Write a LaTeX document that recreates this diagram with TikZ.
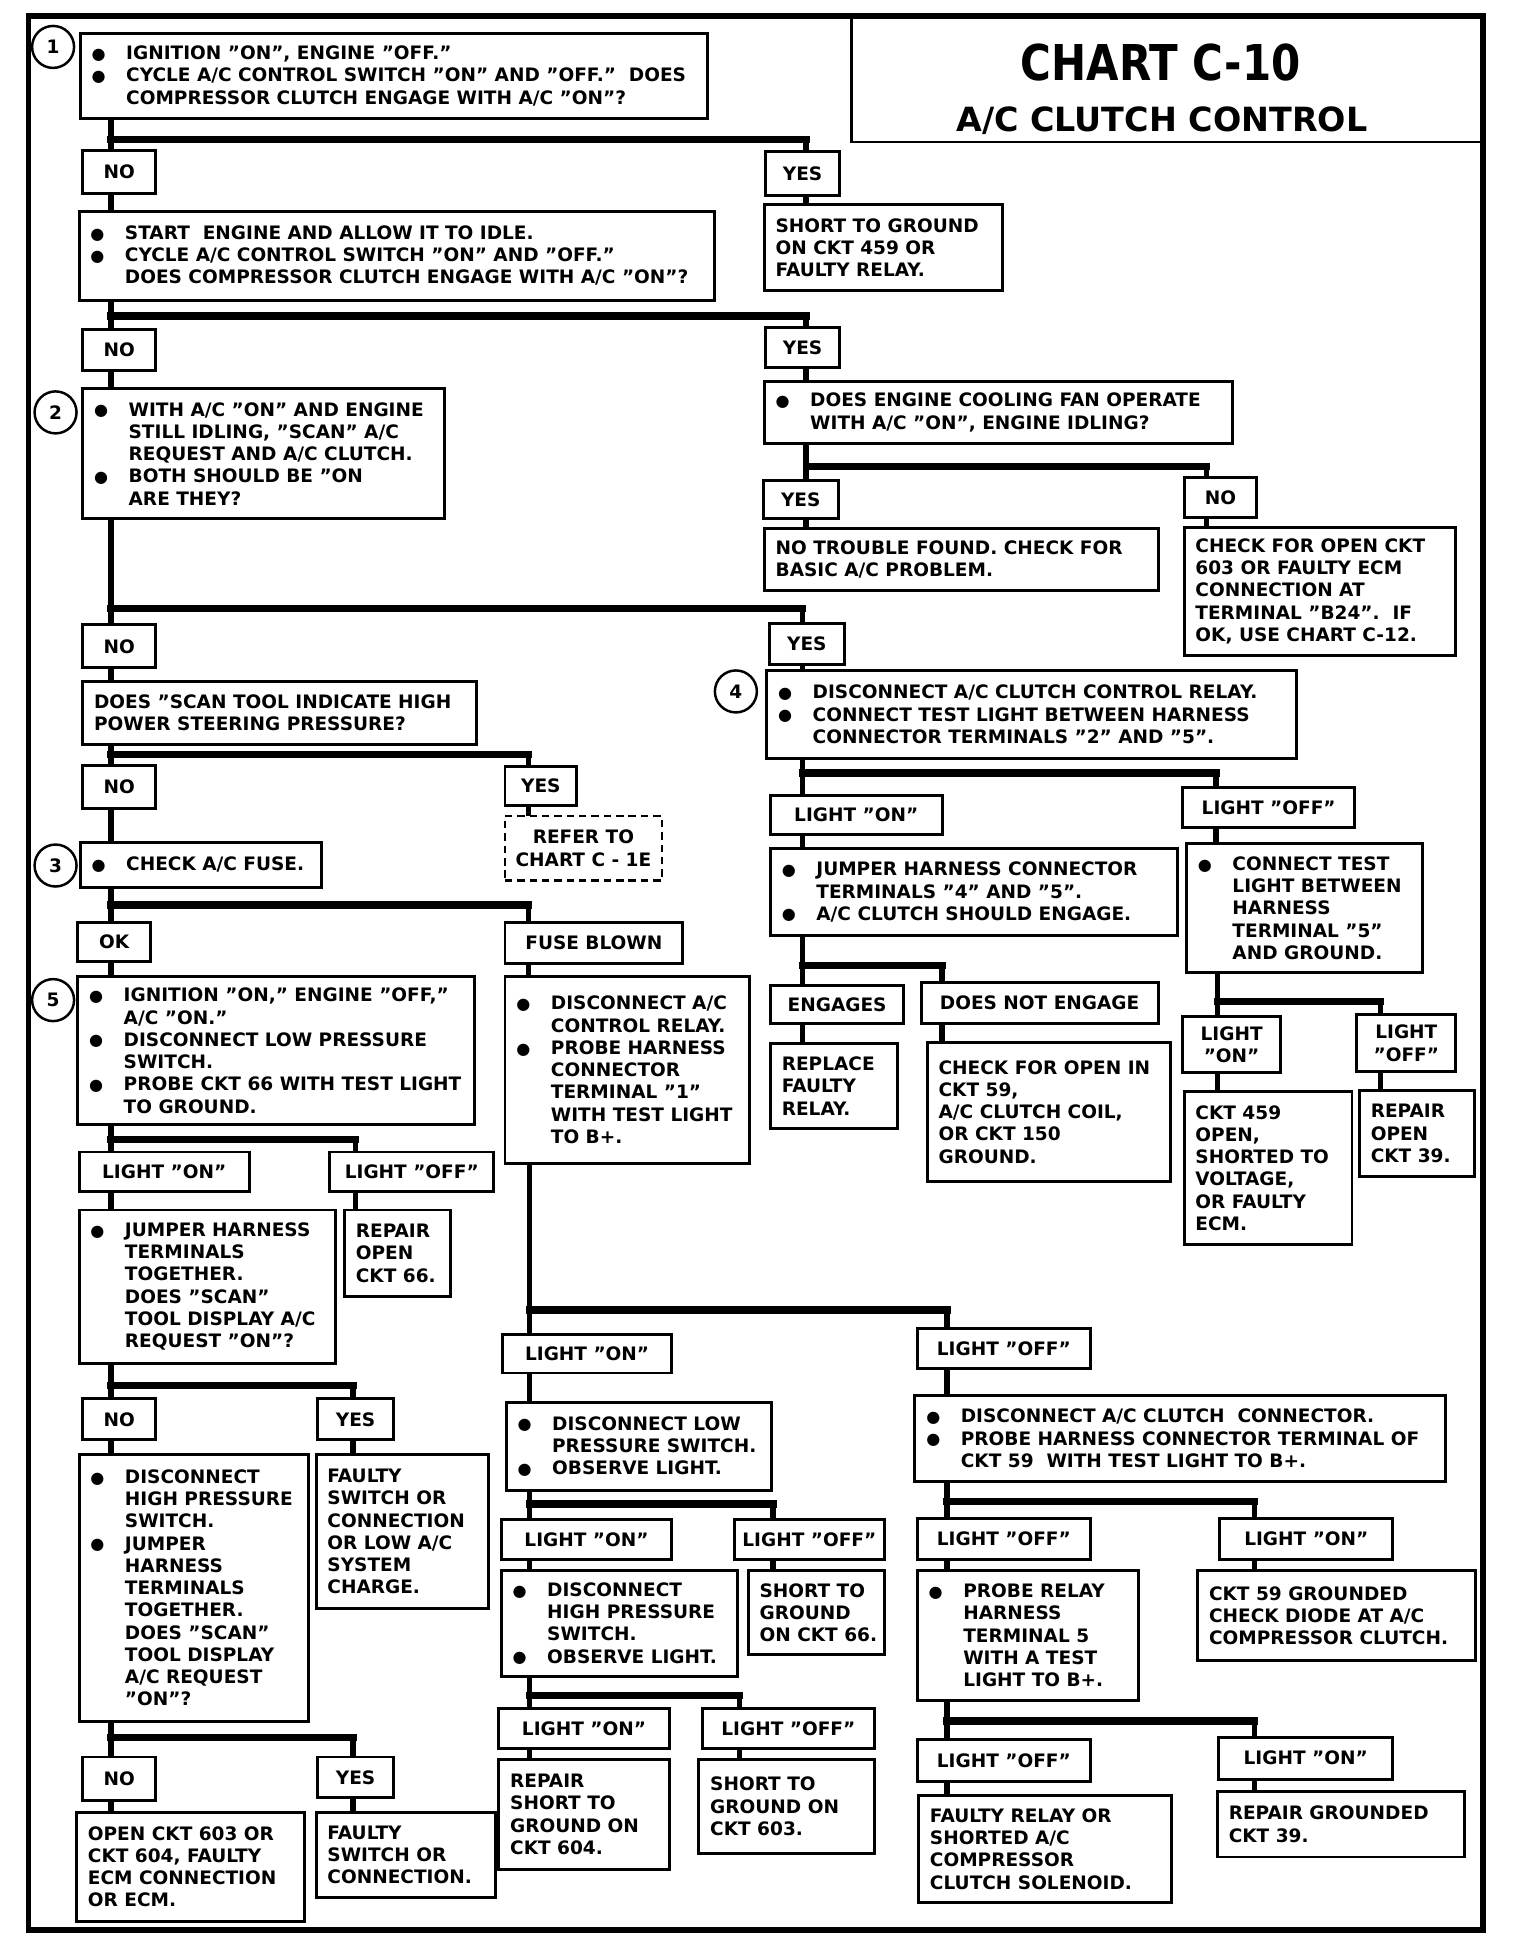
\documentclass[tikz,border=0pt]{standalone}
\usepackage{fontspec}
\usepackage{graphicx}
\setmainfont{DejaVu Sans}
\newcommand\bulx{\makebox[28pt][l]{\fontsize{13}{13}\selectfont\raisebox{0.3pt}{●}}}
\newcommand\indx{\hbox to 28pt{}}
\newcommand\bx[6]{\pgfmathsetmacro\BXw{#4-#2}\pgfmathsetmacro\BXh{#5-#3}%
  \node[box, minimum width=\BXw pt, minimum height=\BXh pt] (#1) at (#2,#3) {};
  \node[txt] (#1-t) at ([xshift=9pt]#1.west) {#6};}
\newcommand\lb[6]{\pgfmathsetmacro\BXw{#4-#2}\pgfmathsetmacro\BXh{#5-#3}%
  \node[lab, minimum width=\BXw pt, minimum height=\BXh pt] (#1) at (#2,#3) {#6};}
\newcommand\vc[3]{\draw[vl] (#1.south -| #3,0) -- (#2.north -| #3,0);}
\newcommand\br[4]{\draw[hl] (#2,#3) -- (#4,#3); \draw[vl] (#4,#3) -- (#1.north -| #4,0);}
\begin{document}
\begin{tikzpicture}[x=1pt,y=-1pt,
  every node/.style={font=\fontsize{15}{18}\selectfont\bfseries},
  box/.style={draw, rectangle, line width=2.4pt, inner sep=0pt, outer sep=0pt, anchor=north west},
  txt/.style={align=left, inner sep=0pt, anchor=west},
  lab/.style={draw, rectangle, line width=2.4pt, inner sep=0pt, outer sep=0pt, align=center, anchor=north west},
  num/.style={circle, draw, line width=2pt, minimum size=34pt, inner sep=0pt, fill=white},
  vl/.style={line width=4.5pt},
  hl/.style={line width=6pt, line cap=rect}]
\useasboundingbox (0,0) rectangle (1231,1568);
\fill[white] (0,0) rectangle (1231,1568);
% title
\node[box, minimum width=511pt, minimum height=102pt] (title) at (690,13) {};
\node (t1) at (940,51) {\scalebox{0.85}[1]{\fontsize{40}{44}\selectfont\bfseries CHART C-10}};
\node (t2) at (941,98) {\fontsize{27}{30}\selectfont\bfseries A/C CLUTCH CONTROL};
\draw[line width=4.5pt] (23,13) rectangle (1201,1563);
% step numbers
\node[num] (c1) at (43,38) {1};
\node[num] (c2) at (45,334) {2};
\node[num] (c3) at (45,701) {3};
\node[num] (c4) at (596,560) {4};
\node[num] (c5) at (43,810) {5};
% boxes
\bx{b1}{65}{27}{573}{96}{\bulx IGNITION "ON", ENGINE "OFF."\\\bulx CYCLE A/C CONTROL SWITCH "ON" AND "OFF."~~DOES\\\indx COMPRESSOR CLUTCH ENGAGE WITH A/C "ON"?}
\lb{no1}{67}{122}{126}{157}{NO}
\lb{yes1}{620}{123}{680}{158}{YES}
\bx{b2}{64}{171}{579}{243}{\bulx START~~ENGINE AND ALLOW IT TO IDLE.\\\bulx CYCLE A/C CONTROL SWITCH "ON" AND "OFF."\\\indx DOES COMPRESSOR CLUTCH ENGAGE WITH A/C "ON"?}
\bx{sg1}{619}{166}{812}{235}{SHORT TO GROUND\\ON CKT 459 OR\\FAULTY RELAY.}
\lb{no2}{67}{267}{126}{300}{NO}
\lb{yes2}{620}{265}{680}{298}{YES}
\bx{b3}{619}{309}{998}{359}{\bulx DOES ENGINE COOLING FAN OPERATE\\\indx WITH A/C "ON", ENGINE IDLING?}
\bx{s2}{67}{315}{360}{420}{\bulx WITH A/C "ON" AND ENGINE\\\indx STILL IDLING, "SCAN" A/C\\\indx REQUEST AND A/C CLUTCH.\\\bulx BOTH SHOULD BE "ON\\\indx ARE THEY?}
\lb{yes3}{618}{389}{679}{420}{YES}
\lb{no3}{959}{387}{1018}{419}{NO}
\bx{ntf}{619}{428}{938}{478}{NO TROUBLE FOUND. CHECK FOR\\BASIC A/C PROBLEM.}
\bx{cko}{959}{427}{1179}{531}{CHECK FOR OPEN CKT\\603 OR FAULTY ECM\\CONNECTION AT\\TERMINAL "B24".~~IF\\OK, USE CHART C-12.}
\lb{no4}{67}{506}{126}{541}{NO}
\lb{yes4}{623}{505}{684}{538}{YES}
\bx{s4}{621}{543}{1050}{614}{\bulx DISCONNECT A/C CLUTCH CONTROL RELAY.\\\bulx CONNECT TEST LIGHT BETWEEN HARNESS\\\indx CONNECTOR TERMINALS "2" AND "5".}
\bx{scanq}{67}{552}{386}{603}{DOES "SCAN TOOL INDICATE HIGH\\POWER STEERING PRESSURE?}
\lb{no5}{67}{620}{126}{655}{NO}
\lb{yes5}{409}{621}{467}{652}{YES}
\node[lab, dashed, dash pattern=on 6pt off 4pt, line width=2pt, minimum width=127pt, minimum height=52pt] (refer) at (409,661) {REFER TO\\CHART C - 1E};
\bx{s3}{65}{682}{260}{719}{\bulx CHECK A/C FUSE.}
\lb{lon1}{624}{644}{763}{676}{LIGHT "ON"}
\lb{loff1}{958}{638}{1097}{670}{LIGHT "OFF"}
\bx{jhc}{624}{687}{954}{758}{\bulx JUMPER HARNESS CONNECTOR\\\indx TERMINALS "4" AND "5".\\\bulx A/C CLUTCH SHOULD ENGAGE.}
\bx{ctl}{961}{683}{1152}{788}{\bulx CONNECT TEST\\\indx LIGHT BETWEEN\\\indx HARNESS\\\indx TERMINAL "5"\\\indx AND GROUND.}
\lb{ok}{63}{747}{122}{779}{OK}
\lb{fb}{409}{747}{553}{780}{FUSE BLOWN}
\lb{eng}{624}{798}{732}{829}{ENGAGES}
\lb{dne}{746}{796}{938}{829}{DOES NOT ENGAGE}
\bx{rfr}{624}{845}{727}{914}{REPLACE\\FAULTY\\RELAY.}
\bx{cfo}{751}{844}{948}{957}{CHECK FOR OPEN IN\\CKT 59,\\A/C CLUTCH COIL,\\OR CKT 150\\GROUND.}
\lb{lon2}{958}{823}{1037}{869}{LIGHT\\"ON"}
\lb{loff2}{1099}{822}{1179}{868}{LIGHT\\"OFF"}
\bx{c459}{959}{884}{1095}{1008}{CKT 459\\OPEN,\\SHORTED TO\\VOLTAGE,\\OR FAULTY\\ECM.}
\bx{roc39}{1101}{883}{1194}{953}{REPAIR\\OPEN\\CKT 39.}
\bx{s5}{63}{791}{384}{911}{\bulx IGNITION "ON," ENGINE "OFF,"\\\indx A/C "ON."\\\bulx DISCONNECT LOW PRESSURE\\\indx SWITCH.\\\bulx PROBE CKT 66 WITH TEST LIGHT\\\indx TO GROUND.}
\bx{fbc}{409}{791}{607}{942}{\bulx DISCONNECT A/C\\\indx CONTROL RELAY.\\\bulx PROBE HARNESS\\\indx CONNECTOR\\\indx TERMINAL "1"\\\indx WITH TEST LIGHT\\\indx TO B+.}
\lb{lon3}{64}{933}{202}{965}{LIGHT "ON"}
\lb{loff3}{267}{933}{400}{965}{LIGHT "OFF"}
\bx{jht}{64}{980}{272}{1104}{\bulx JUMPER HARNESS\\\indx TERMINALS\\\indx TOGETHER.\\\indx DOES "SCAN"\\\indx TOOL DISPLAY A/C\\\indx REQUEST "ON"?}
\bx{ro66}{279}{980}{365}{1050}{REPAIR\\OPEN\\CKT 66.}
\lb{no6}{67}{1133}{126}{1166}{NO}
\lb{yes6}{257}{1133}{319}{1166}{YES}
\bx{dhp1}{64}{1178}{250}{1394}{\bulx DISCONNECT\\\indx HIGH PRESSURE\\\indx SWITCH.\\\bulx JUMPER\\\indx HARNESS\\\indx TERMINALS\\\indx TOGETHER.\\\indx DOES "SCAN"\\\indx TOOL DISPLAY\\\indx A/C REQUEST\\\indx "ON"?}
\bx{fsc1}{256}{1178}{396}{1303}{FAULTY\\SWITCH OR\\CONNECTION\\OR LOW A/C\\SYSTEM\\CHARGE.}
\lb{no7}{67}{1423}{126}{1458}{NO}
\lb{yes7}{257}{1423}{319}{1456}{YES}
\bx{oc603}{62}{1468}{247}{1556}{OPEN CKT 603 OR\\CKT 604, FAULTY\\ECM CONNECTION\\OR ECM.}
\bx{fsc2}{256}{1468}{401}{1537}{FAULTY\\SWITCH OR\\CONNECTION.}
\lb{lon4}{407}{1081}{544}{1112}{LIGHT "ON"}
\lb{loff4}{743}{1076}{883}{1108}{LIGHT "OFF"}
\bx{dlp}{410}{1136}{625}{1207}{\bulx DISCONNECT LOW\\\indx PRESSURE SWITCH.\\\bulx OBSERVE LIGHT.}
\bx{dacc}{741}{1130}{1171}{1200}{\bulx DISCONNECT A/C CLUTCH~~CONNECTOR.\\\bulx PROBE HARNESS CONNECTOR TERMINAL OF\\\indx CKT 59~~WITH TEST LIGHT TO B+.}
\lb{lon5}{406}{1231}{544}{1263}{LIGHT "ON"}
\lb{loff5}{595}{1231}{716}{1263}{LIGHT "OFF"}
\bx{dhp2}{406}{1272}{597}{1358}{\bulx DISCONNECT\\\indx HIGH PRESSURE\\\indx SWITCH.\\\bulx OBSERVE LIGHT.}
\bx{sg66}{606}{1272}{716}{1340}{SHORT TO\\GROUND\\ON CKT 66.}
\lb{lon6}{404}{1384}{542}{1416}{LIGHT "ON"}
\lb{loff6}{569}{1384}{708}{1416}{LIGHT "OFF"}
\bx{rs604}{404}{1425}{542}{1514}{REPAIR\\SHORT TO\\GROUND ON\\CKT 604.}
\bx{sg603}{566}{1425}{708}{1501}{SHORT TO\\GROUND ON\\CKT 603.}
\lb{loff7}{743}{1230}{883}{1263}{LIGHT "OFF"}
\lb{lon7}{988}{1230}{1128}{1263}{LIGHT "ON"}
\bx{prr}{743}{1272}{922}{1377}{\bulx PROBE RELAY\\\indx HARNESS\\\indx TERMINAL 5\\\indx WITH A TEST\\\indx LIGHT TO B+.}
\bx{c59g}{970}{1272}{1195}{1345}{CKT 59 GROUNDED\\CHECK DIODE AT A/C\\COMPRESSOR CLUTCH.}
\lb{loff8}{743}{1409}{883}{1443}{LIGHT "OFF"}
\lb{lon8}{987}{1407}{1128}{1441}{LIGHT "ON"}
\bx{frs}{744}{1454}{949}{1541}{FAULTY RELAY OR\\SHORTED A/C\\COMPRESSOR\\CLUTCH SOLENOID.}
\bx{rgc39}{986}{1451}{1186}{1504}{REPAIR GROUNDED\\CKT 39.}
% connectors
\vc{b1}{no1}{90}
\br{yes1}{90}{113}{653}
\vc{yes1}{sg1}{653}
\vc{no1}{b2}{90}
\vc{b2}{no2}{90}
\br{yes2}{90}{256}{653}
\vc{yes2}{b3}{653}
\vc{no2}{s2}{90}
\vc{b3}{yes3}{653}
\br{no3}{653}{378}{977}
\vc{yes3}{ntf}{653}
\vc{no3}{cko}{977}
\vc{s2}{no4}{90}
\br{yes4}{90}{493}{650}
\vc{yes4}{s4}{650}
\vc{s4}{lon1}{650}
\br{loff1}{650}{626}{985}
\vc{lon1}{jhc}{650}
\vc{loff1}{ctl}{985}
\vc{jhc}{eng}{650}
\br{dne}{650}{782}{763}
\vc{eng}{rfr}{650}
\vc{dne}{cfo}{763}
\vc{ctl}{lon2}{986}
\br{loff2}{986}{811}{1118}
\vc{lon2}{c459}{986}
\vc{loff2}{roc39}{1118}
\vc{no4}{scanq}{90}
\vc{scanq}{no5}{90}
\br{yes5}{90}{611}{428}
\vc{yes5}{refer}{428}
\vc{no5}{s3}{90}
\vc{s3}{ok}{90}
\br{fb}{90}{733}{428}
\vc{ok}{s5}{90}
\vc{fb}{fbc}{428}
\vc{s5}{lon3}{90}
\br{loff3}{90}{923}{288}
\vc{lon3}{jht}{90}
\vc{loff3}{ro66}{288}
\vc{jht}{no6}{90}
\br{yes6}{90}{1122}{286}
\vc{no6}{dhp1}{90}
\vc{yes6}{fsc1}{286}
\vc{dhp1}{no7}{90}
\br{yes7}{90}{1407}{286}
\vc{no7}{oc603}{90}
\vc{yes7}{fsc2}{286}
\vc{fbc}{lon4}{429}
\br{loff4}{429}{1061}{767}
\vc{lon4}{dlp}{429}
\vc{loff4}{dacc}{767}
\vc{dlp}{lon5}{429}
\br{loff5}{429}{1218}{626}
\vc{lon5}{dhp2}{429}
\vc{loff5}{sg66}{626}
\vc{dhp2}{lon6}{429}
\br{loff6}{429}{1373}{599}
\vc{lon6}{rs604}{429}
\vc{loff6}{sg603}{599}
\vc{dacc}{loff7}{767}
\br{lon7}{767}{1216}{1016}
\vc{loff7}{prr}{767}
\vc{lon7}{c59g}{1016}
\vc{prr}{loff8}{767}
\br{lon8}{767}{1394}{1016}
\vc{loff8}{frs}{767}
\vc{lon8}{rgc39}{1016}
\end{tikzpicture}
\end{document}
